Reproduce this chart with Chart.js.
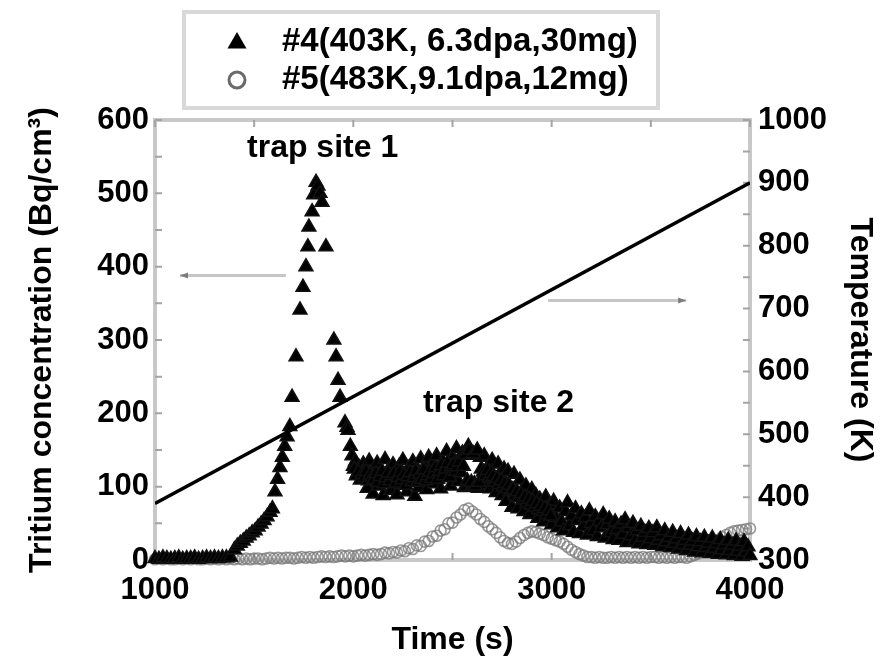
<!DOCTYPE html>
<html>
<head>
<meta charset="utf-8">
<title>Tritium desorption</title>
<script src="https://cdn.jsdelivr.net/npm/chart.js@4.4.1/dist/chart.umd.min.js"></script>
<style>
  html, body { margin: 0; padding: 0; background: #fff; }
  canvas { display: block; }
</style>
</head>
<body>
<canvas id="tds" width="890" height="665"></canvas>
<script>
// #4 (403K, 6.3dpa, 30mg) - flat start, first peak, long tail
const t4Base = [1000,1020,1040,1060,1080,1100,1120,1140,1160,1180,1200,1220,1240,1260,1280,1300,1320,1340,1360,1380];
const c4Base = [2,1,3,2,1,2,3,1,2,2,3,1,2,3,2,3,2,3,3,4];

const t4Peak = [1400,1415,1430,1445,1460,1475,1490,1505,1520,1535,1550,1565,1580,1592,
  1605,1618,1630,1642,1654,1666,1680,1691,1711,1731,1746,1761,1771,1776,1792,1800,
  1812,1822,1832,1842,1862,1902,1913,1923,1933,1958,1968,1973,1985,1993];
const c4Peak = [14,19,23,26,30,33,37,40,45,49,54,59,65,70,
  93,110,126,140,155,168,182,222,277,341,372,400,427,454,475,498,
  515,510,500,488,427,300,277,245,222,187,181,177,155,142];

const t4Tail = [
  2000,2010,2020,2030,2040,2050,2060,2070,2080,2090,
  2100,2110,2120,2130,2140,2150,2160,2170,2180,2190,
  2200,2210,2220,2230,2240,2250,2260,2270,2280,2290,
  2300,2310,2320,2330,2340,2350,2360,2370,2380,2390,
  2400,2410,2420,2430,2440,2450,2460,2470,2480,2490,
  2500,2510,2520,2530,2540,2550,2560,2570,2580,2590,
  2600,2610,2620,2630,2640,2650,2660,2670,2680,2690,
  2700,2710,2720,2730,2740,2750,2760,2770,2780,2790,
  2800,2810,2820,2830,2840,2850,2860,2870,2880,2890,
  2900,2910,2920,2930,2940,2950,2960,2970,2980,2990,
  3000,3010,3020,3030,3040,3050,3060,3070,3080,3090,
  3100,3110,3120,3130,3140,3150,3160,3170,3180,3190,
  3200,3210,3220,3230,3240,3250,3260,3270,3280,3290,
  3300,3310,3320,3330,3340,3350,3360,3370,3380,3390,
  3400,3410,3420,3430,3440,3450,3460,3470,3480,3490,
  3500,3510,3520,3530,3540,3550,3560,3570,3580,3590,
  3600,3610,3620,3630,3640,3650,3660,3670,3680,3690,
  3700,3710,3720,3730,3740,3750,3760,3770,3780,3790,
  3800,3810,3820,3830,3840,3850,3860,3870,3880,3890,
  3900,3910,3920,3930,3940,3950,3960,3970,3980,3990,
  4000];
const c4Tail = [
  128,134,118,126,122,131,126,98,135,110,
  90,120,132,101,115,88,137,106,124,95,
  130,112,89,127,103,136,117,93,125,108,
  134,87,121,99,138,114,128,96,140,109,
  131,104,142,118,97,135,112,148,125,101,
  140,116,152,107,131,146,99,100,155,143,
  102,104,147,98,140,110,142,103,128,97,
  136,110,92,131,118,88,124,80,121,93,
  72,117,86,70,109,94,66,101,82,62,
  96,74,88,57,83,68,52,86,63,75,
  48,80,58,44,71,52,40,66,78,47,
  60,38,70,54,36,63,46,58,34,67,
  50,40,59,32,53,44,62,30,48,56,
  37,28,52,42,27,49,35,55,24,44,
  33,50,26,40,22,46,31,38,21,43,
  29,37,20,44,27,33,18,40,25,31,
  17,38,23,29,15,36,21,27,13,34,
  20,26,11,32,18,25,10,31,17,23,
  9,30,16,22,8,28,14,21,7,27,
  13,20,6,26,12,19,5,25,11,18,
  6];

// #4 readings between the 10 s samples across the second peak
const t4Mid = [
  2005,2015,2025,2035,2045,2055,2065,2075,2085,2095,
  2105,2115,2125,2135,2145,2155,2165,2175,2185,2195,
  2205,2215,2225,2235,2245,2255,2265,2275,2285,2295,
  2305,2315,2325,2335,2345,2355,2365,2375,2385,2395,
  2405,2415,2425,2435,2445,2455,2465,2475,2485,2495,
  2505,2515,2525,2535,2545,2555,2565,2575,2585,2595,
  2605,2615,2625,2635,2645,2655,2665,2675,2685,2695,
  2705,2715,2725,2735,2745,2755,2765,2775,2785,2795,
  2805,2815,2825,2835,2845,2855,2865,2875,2885,2895,
  2905,2915,2925,2935,2945,2955,2965,2975,2985,2995];
const c4Mid = [
  124,115,120,109,117,112,121,108,116,113,
  110,118,106,114,121,104,112,119,108,115,
  118,105,113,120,109,116,102,114,119,107,
  112,121,106,117,110,123,108,115,120,111,
  118,126,110,121,129,115,124,132,113,127,
  130,121,127,134,119,128,144,108,150,106,
  145,101,150,106,124,120,115,122,112,118,
  114,106,111,103,108,100,104,97,102,94,
  96,88,93,85,90,82,86,78,83,75,
  80,72,77,69,73,66,70,62,67,60];

// #5 (483K, 9.1dpa, 12mg)
const t5 = [
  1000,1020,1040,1060,1080,1100,1120,1140,1160,1180,1200,1220,1240,1260,1280,1300,1320,1340,1360,1380,
  1400,1420,1440,1460,1480,1500,1520,1540,1560,1580,1600,1620,1640,1660,1680,1700,1720,1740,1760,1780,
  1800,1820,1840,1860,1880,1900,1920,1940,1960,1980,2000,2020,2040,2060,2080,2100,2120,2140,2160,2180,
  2200,2220,2240,2260,2280,2300,2320,2340,2360,2380,2400,2420,2440,2460,2480,2500,2520,2540,2560,2580,
  2600,2620,2640,2660,2680,2700,2720,2740,2760,2780,2800,2820,2840,2860,2880,2900,2920,2940,2960,2980,
  3000,3020,3040,3060,3080,3100,3120,3140,3160,3180,3200,3220,3240,3260,3280,3300,3320,3340,3360,3380,
  3400,3420,3440,3460,3480,3500,3520,3540,3560,3580,3600,3620,3640,3660,3680,3700,3720,3740,3760,3780,
  3800,3820,3840,3860,3880,3900,3920,3940,3960,3980,4000];
const c5 = [
  1,2,1,2,1,1,2,1,2,1,2,1,1,2,1,2,1,2,1,2,
  1,2,1,2,1,2,2,1,2,3,2,3,2,3,3,2,3,4,3,4,
  3,4,5,4,5,4,5,6,5,6,5,6,7,6,7,8,7,8,10,9,
  11,10,13,12,16,15,20,19,25,26,32,33,40,42,50,51,58,62,68,70,
  66,62,56,52,46,42,37,31,26,23,22,25,30,34,37,39,38,36,34,31,
  29,27,25,22,18,14,11,8,6,4,4,3,4,3,3,4,3,4,3,4,
  3,4,3,4,3,4,4,3,4,3,4,3,4,4,3,5,7,9,12,15,
  19,23,27,31,34,37,39,40,41,42,43];

// heating ramp (right axis)
const tempTime = [1000, 4000];
const tempK = [390, 900];

// labelled tick values
const xLabels = [1000, 2000, 3000, 4000];
const yLabels = [0, 100, 200, 300, 400, 500, 600];
const y2Labels = [300, 400, 500, 600, 700, 800, 900, 1000];

const FONT = "'Liberation Sans', Arial, Helvetica, sans-serif";
Chart.defaults.font.family = FONT;
Chart.defaults.font.weight = "bold";
Chart.defaults.color = "#000";

const toPts = (xs, ys) => xs.map((x, i) => ({ x: x, y: ys[i] }));

const series4 = toPts(t4Base, c4Base).concat(toPts(t4Peak, c4Peak), toPts(t4Tail, c4Tail), toPts(t4Mid, c4Mid));
const series5 = toPts(t5, c5);

// grey box round the plot with short inward ticks
const framePlugin = {
  id: "frame",
  beforeDatasetsDraw(chart) {
    const { ctx, chartArea: a, scales } = chart;
    ctx.save();
    ctx.strokeStyle = "#c8c8c8";
    ctx.lineWidth = 4;
    ctx.strokeRect(a.left, a.top, a.right - a.left, a.bottom - a.top);

    ctx.strokeStyle = "#a4a4a4";
    ctx.lineWidth = 2;
    ctx.beginPath();
    scales.y.ticks.forEach(t => {
      const py = scales.y.getPixelForValue(t.value);
      ctx.moveTo(a.left, py); ctx.lineTo(a.left + 7, py);
    });
    scales.y2.ticks.forEach(t => {
      const py = scales.y2.getPixelForValue(t.value);
      ctx.moveTo(a.right, py); ctx.lineTo(a.right - 7, py);
    });
    scales.x.ticks.forEach(t => {
      const px = scales.x.getPixelForValue(t.value);
      ctx.moveTo(px, a.bottom); ctx.lineTo(px, a.bottom - 7);
      ctx.moveTo(px, a.top); ctx.lineTo(px, a.top + 7);
    });
    ctx.stroke();
    ctx.restore();
  }
};

function arrow(ctx, x1, x2, y) {
  ctx.strokeStyle = "#c6c6c6";
  ctx.lineWidth = 3;
  ctx.beginPath();
  ctx.moveTo(x1, y); ctx.lineTo(x2, y);
  ctx.stroke();
  const d = Math.sign(x2 - x1);
  ctx.fillStyle = "#7c7c7c";
  ctx.beginPath();
  ctx.moveTo(x2, y);
  ctx.lineTo(x2 - d * 8, y - 3);
  ctx.lineTo(x2 - d * 8, y + 3);
  ctx.closePath();
  ctx.fill();
}

// peak labels, axis arrows and the boxed legend
const notesPlugin = {
  id: "notes",
  afterDatasetsDraw(chart) {
    const { ctx, scales } = chart;
    const x = scales.x, y = scales.y, y2 = scales.y2;
    ctx.save();
    arrow(ctx, x.getPixelForValue(1660), x.getPixelForValue(1126), y.getPixelForValue(388));
    arrow(ctx, x.getPixelForValue(2982), x.getPixelForValue(3678), y2.getPixelForValue(713));

    ctx.fillStyle = "#000";
    ctx.font = "bold 32px " + FONT;
    ctx.textAlign = "left";
    ctx.textBaseline = "middle";
    ctx.fillText("trap site 1", x.getPixelForValue(1464), y.getPixelForValue(562));
    ctx.fillText("trap site 2", x.getPixelForValue(2351), y.getPixelForValue(214));
    ctx.restore();
  },
  afterDraw(chart) {
    const ctx = chart.ctx;
    const ds = chart.data.datasets;
    ctx.save();
    ctx.strokeStyle = "#d8d8d8";
    ctx.lineWidth = 4;
    ctx.strokeRect(184, 12, 474, 96);

    ctx.fillStyle = "#000";
    Chart.helpers.drawPoint(ctx, { pointStyle: "triangle", radius: 11, rotation: 0, borderWidth: 0 }, 237, 43);

    ctx.fillStyle = "#fff";
    ctx.strokeStyle = "#6a6a6a";
    ctx.lineWidth = 3;
    Chart.helpers.drawPoint(ctx, { pointStyle: "circle", radius: 8, rotation: 0, borderWidth: 3 }, 237, 80);

    ctx.fillStyle = "#000";
    ctx.font = "bold 33px " + FONT;
    ctx.textAlign = "left";
    ctx.textBaseline = "middle";
    ctx.fillText(ds[0].label, 282, 42);
    ctx.fillText(ds[1].label, 282, 80);
    ctx.restore();
  }
};

const tickFont = { size: 31, weight: "bold" };
const titleFont = { size: 32, weight: "bold" };

new Chart(document.getElementById("tds"), {
  type: "scatter",
  data: {
    datasets: [
      {
        label: "#4(403K, 6.3dpa,30mg)",
        data: series4,
        yAxisID: "y",
        pointStyle: "triangle",
        pointRadius: 8,
        backgroundColor: "#000",
        borderColor: "#111",
        borderWidth: 1.5,
        clip: false,
        order: 1
      },
      {
        label: "#5(483K,9.1dpa,12mg)",
        data: series5,
        yAxisID: "y",
        pointStyle: "circle",
        pointRadius: 5.5,
        backgroundColor: "rgba(0,0,0,0)",
        borderColor: "rgba(120,120,120,0.75)",
        borderWidth: 1.6,
        clip: false,
        order: 2
      },
      {
        label: "Temperature",
        data: toPts(tempTime, tempK),
        yAxisID: "y2",
        showLine: true,
        borderColor: "#000",
        borderWidth: 3.5,
        pointRadius: 0,
        order: 0
      }
    ]
  },
  options: {
    responsive: false,
    animation: false,
    events: [],
    layout: { padding: { top: 120, left: 0, right: 0, bottom: 0 } },
    plugins: { legend: { display: false }, tooltip: { enabled: false } },
    scales: {
      x: {
        type: "linear",
        position: "bottom",
        min: 1000,
        max: 4000,
        grid: { display: false, drawTicks: false },
        border: { display: false },
        ticks: {
          stepSize: 500,
          autoSkip: false,
          maxRotation: 0,
          padding: 12,
          color: "#000",
          font: tickFont,
          callback: v => xLabels.includes(v) ? String(v) : ""
        },
        title: { display: true, text: "Time (s)", color: "#000", font: titleFont, padding: { top: 0, bottom: 6 } },
        afterFit: s => { s.height = 105; }
      },
      y: {
        type: "linear",
        position: "left",
        min: 0,
        max: 600,
        grid: { display: false, drawTicks: false },
        border: { display: false },
        ticks: {
          stepSize: 50,
          autoSkip: false,
          padding: 6,
          color: "#000",
          font: tickFont,
          callback: v => yLabels.includes(v) ? String(v) : ""
        },
        title: { display: true, text: "Tritium concentration (Bq/cm\u00b3)", color: "#000", font: titleFont, padding: { top: 23, bottom: 0 } },
        afterFit: s => { s.width = 155; }
      },
      y2: {
        type: "linear",
        position: "right",
        min: 300,
        max: 1000,
        grid: { display: false, drawTicks: false },
        border: { display: false },
        ticks: {
          stepSize: 50,
          autoSkip: false,
          padding: 8,
          color: "#000",
          font: tickFont,
          callback: v => y2Labels.includes(v) ? String(v) : ""
        },
        title: { display: true, text: "Temperature (K)", color: "#000", font: titleFont, padding: { top: 11, bottom: 0 } },
        afterFit: s => { s.width = 140; }
      }
    }
  },
  plugins: [framePlugin, notesPlugin]
});
</script>
</body>
</html>
